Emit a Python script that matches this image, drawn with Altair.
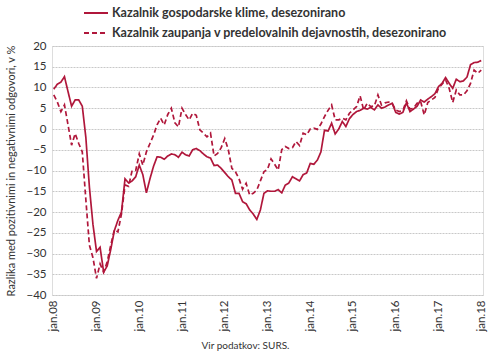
import altair as alt
import pandas as pd

# series names
series_a = "Kazalnik gospodarske klime, desezonirano"
series_b = "Kazalnik zaupanja v predelovalnih dejavnostih, desezonirano"

# x axis tick labels (January of each year)
year_labels = ["08", "09", "10", "11", "12", "13", "14", "15", "16", "17", "18"]
y_ticks = [-40, -35, -30, -25, -20, -15, -10, -5, 0, 5, 10, 15, 20]

# monthly values, jan.2008 .. jan.2018
klima = [
    9.6, 10.8, 11.3, 12.6, 9.0, 5.5, 7.0, 7.0, 5.5, -2.0, -14.0, -23.0,
    -29.5, -28.5, -34.5, -33.0, -29.0, -24.5, -22.0, -20.0, -12.0, -13.0, -12.5, -11.5,
    -8.7, -11.0, -15.4, -12.0, -9.0, -6.7, -6.8, -7.3, -6.5, -6.0, -6.2, -6.8,
    -5.6, -6.2, -6.5, -5.0, -4.7, -5.2, -6.0, -6.7, -7.0, -8.8, -8.7, -9.5,
    -10.5, -11.5, -12.3, -15.5, -15.5, -17.5, -18.0, -19.5, -20.5, -21.8, -19.5, -15.5,
    -14.9, -15.0, -15.0, -14.6, -15.4, -13.5, -13.0, -11.5, -12.0, -12.5, -11.0, -10.6,
    -8.3, -8.5, -7.5, -5.5, -0.3, -0.5, 1.4, -1.2, 0.0, 1.8, 0.6, 2.5,
    3.5, 4.2, 4.5, 5.0, 4.8, 5.2, 4.6, 5.8, 5.0, 5.3, 5.8, 6.2,
    4.0, 3.6, 4.0, 6.3, 4.2, 4.8, 5.5, 7.0, 6.5, 7.2, 7.8, 8.5,
    10.2, 11.0, 12.4, 11.0, 9.8, 12.0, 11.4, 11.6, 12.5, 15.5, 16.0, 16.1,
    16.5,
]
zaupanje = [
    8.2, 6.5, 4.2, 5.8, 1.0, -3.9, -1.1, -3.5, -5.5, -17.0, -28.0, -31.0,
    -36.0, -32.5, -34.5, -32.0, -28.0, -24.3, -24.8, -20.5, -13.5, -13.8, -10.0, -10.0,
    -6.0, -8.7, -5.5, -3.5, -1.5, 1.0, 2.6, 1.0, 3.5, 5.0, 1.5, 0.5,
    5.0, 3.5, 2.2, 3.8, 3.3, -0.2, -1.0, -1.9, -1.0, -6.5, -5.9, -4.5,
    -2.3, -5.0, -9.5, -10.3, -12.0, -14.5, -13.1, -15.9, -15.5, -14.7, -12.5, -10.3,
    -9.7, -7.2, -8.5, -9.9, -5.0, -4.2, -4.7, -4.5, -3.0, -4.0, -1.0, -1.4,
    0.0, 0.2, -0.1, 1.2, 3.0, 4.5, 5.8, 2.2, 2.2, 2.6, 2.2, 3.8,
    4.6, 5.4, 8.0, 4.6, 6.2, 5.4, 5.6, 8.2, 5.8, 6.3, 6.5, 6.2,
    4.6, 4.2, 4.5, 6.8, 4.8, 5.0, 6.2, 6.6, 3.4, 6.4, 7.0, 7.6,
    9.8, 10.8, 11.8, 9.8, 6.4, 9.4, 8.2, 8.2, 9.2, 11.0, 14.2, 13.4,
    14.2,
]

rows = []
for i, v in enumerate(klima):
    rows.append({"m": i, "series": series_a, "value": v})
for i, v in enumerate(zaupanje):
    rows.append({"m": i, "series": series_b, "value": v})
df = pd.DataFrame(rows)

RED = "#B0173B"
FONT = "Lato"
TXT = "#333333"

tick_positions = [12 * k for k in range(len(year_labels))]
label_expr = "'jan.' + " + str(year_labels) + "[round(datum.value / 12)]"

legend_kw = dict(
    orient="none",
    legendX=31,
    legendY=-46,
    title=None,
    labelFontWeight="bold",
    labelFontSize=12.5,
    labelFont=FONT,
    labelColor=TXT,
    symbolType="stroke",
    symbolSize=576,
    symbolStrokeWidth=2,
    rowPadding=-1,
    labelOffset=3,
    labelLimit=400,
)

lines = alt.Chart(df).mark_line(strokeWidth=1.7, interpolate="linear").encode(
    x=alt.X(
        "m:Q",
        scale=alt.Scale(domain=[-0.5, 120.5], nice=False, zero=False),
        axis=alt.Axis(
            values=tick_positions,
            labelExpr=label_expr,
            labelAngle=270,
            labelPadding=5,
            labelFontSize=11.5,
            labelColor=TXT,
            labelFont=FONT,
            grid=False,
            ticks=False,
            domain=False,
            title=None,
        ),
    ),
    y=alt.Y(
        "value:Q",
        scale=alt.Scale(domain=[-40, 20], nice=False, zero=False),
        axis=alt.Axis(
            values=y_ticks,
            labelFontSize=11.5,
            labelColor=TXT,
            labelFont=FONT,
            labelPadding=6,
            grid=True,
            gridColor="#C8C8C8",
            gridDash=[2, 1],
            ticks=False,
            domain=False,
            title="Razlika med pozitivnimi in negativnimi odgovori, v %",
            titleFontSize=11,
            titleFont=FONT,
            titleFontWeight="normal",
            titleColor=TXT,
            titleX=-41,
            titleY=124.5,
            titleAngle=270,
            titleAlign="center",
            titleBaseline="middle",
        ),
    ),
    color=alt.Color(
        "series:N",
        scale=alt.Scale(domain=[series_a, series_b], range=[RED, RED]),
        legend=alt.Legend(**legend_kw),
    ),
    strokeDash=alt.StrokeDash(
        "series:N",
        scale=alt.Scale(domain=[series_a, series_b], range=[[1, 0], [5, 3]]),
        legend=alt.Legend(**legend_kw),
    ),
)

chart = lines.properties(
    width=431,
    height=249,
    padding={"left": 52, "top": 46, "right": 7, "bottom": 59},
    autosize=alt.AutoSizeParams(type="none"),
    title=alt.TitleParams(
        "Vir podatkov: SURS.",
        orient="bottom",
        anchor="middle",
        fontSize=10,
        fontWeight="normal",
        font=FONT,
        color=TXT,
        offset=10,
        dx=-22,
    ),
).configure_view(stroke="#D0D0D0", strokeWidth=1).configure(background="white")

chart.save("out.html", embed_options={"renderer": "svg", "actions": False})
